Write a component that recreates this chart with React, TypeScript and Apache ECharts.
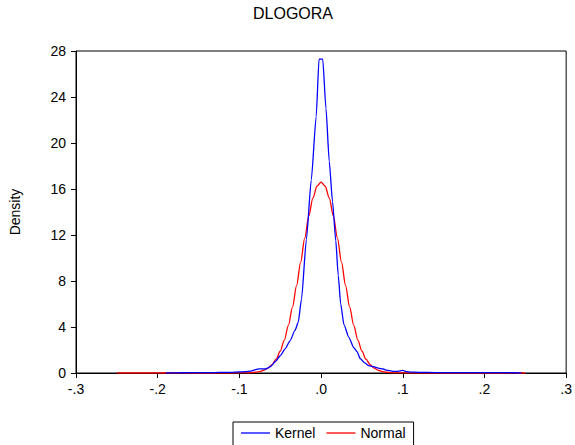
import React, { useEffect, useRef } from "react";
import * as echarts from "echarts";

const titleText = "DLOGORA";
const yAxisName = "Density";
const seriesNames = ["Kernel", "Normal"];

const kernelX = [
  -0.19, -0.17, -0.15, -0.13, -0.12, -0.11, -0.1, -0.093, -0.086, -0.08, -0.075, -0.068,
  -0.062, -0.056, -0.05, -0.044, -0.038, -0.032, -0.028, -0.024, -0.018, -0.012, -0.006,
  -0.0025, 0.002, 0.006, 0.01, 0.014, 0.018, 0.021, 0.024, 0.028, 0.034, 0.04, 0.044, 0.048,
  0.053, 0.058, 0.064, 0.07, 0.076, 0.08, 0.088, 0.094, 0.1, 0.105, 0.11, 0.12, 0.14, 0.16,
  0.18, 0.2, 0.22, 0.235, 0.245,
];
const kernelY = [
  0.0, 0.02, 0.03, 0.04, 0.06, 0.05, 0.09, 0.12, 0.17, 0.3, 0.36, 0.35,
  0.55, 1.0, 1.5, 2.1, 2.8, 3.7, 4.4, 6.4, 11.6, 16.8, 22.3,
  27.3, 27.3, 23.0, 18.4, 14.9, 11.5, 8.5, 6.0, 4.2, 3.1, 2.2, 1.85, 1.25,
  0.9, 0.65, 0.55, 0.42, 0.35, 0.25, 0.15, 0.15, 0.22, 0.12, 0.08, 0.06, 0.04, 0.04,
  0.03, 0.03, 0.04, 0.02, 0.0,
];

const normalX = [
  -0.25, -0.2, -0.15, -0.12, -0.1, -0.09, -0.08, -0.075, -0.07, -0.065, -0.06, -0.055, -0.05,
  -0.045, -0.04, -0.035, -0.03, -0.025, -0.02, -0.015, -0.01, -0.005, 0, 0.005, 0.01, 0.015,
  0.02, 0.025, 0.03, 0.035, 0.04, 0.045, 0.05, 0.055, 0.06, 0.065, 0.07, 0.075, 0.08, 0.09,
  0.1, 0.12, 0.15, 0.2, 0.25,
];
const normalY = [
  0, 0, 0, 0, 0.003, 0.015, 0.064, 0.126, 0.24, 0.42, 0.73, 1.2, 1.9,
  2.86, 4.14, 5.73, 7.6, 9.65, 11.73, 13.66, 15.22, 16.24, 16.6, 16.24, 15.22, 13.66,
  11.73, 9.65, 7.6, 5.73, 4.14, 2.86, 1.9, 1.2, 0.73, 0.42, 0.24, 0.126, 0.064, 0.015,
  0.003, 0, 0, 0, 0,
];

const FONT = "'Liberation Sans', Arial, Helvetica, sans-serif";

function fmtX(v: number): string {
  const r = Math.round(v * 10) / 10;
  if (r === 0) return ".0";
  const s = Math.abs(r).toFixed(1).replace(/^0/, "");
  return (r < 0 ? "-" : "") + s;
}

export default function App() {
  const ref = useRef<HTMLDivElement>(null);
  useEffect(() => {
    if (!ref.current) return;
    const chart = echarts.init(ref.current, null, { renderer: "svg" });
    const kernelData = kernelX.map((x, i) => [x, kernelY[i]]);
    const normalData = normalX.map((x, i) => [x, normalY[i]]);
    chart.setOption({
      animation: false,
      backgroundColor: "#ffffff",
      textStyle: { fontFamily: FONT },
      graphic: [
        {
          type: "text",
          x: 293,
          y: 13,
          style: {
            text: titleText,
            font: `16px ${FONT}`,
            fill: "#000",
            textAlign: "center",
            textVerticalAlign: "middle",
          },
        },
      ],
      grid: {
        left: 73,
        right: 2,
        top: 51,
        bottom: 72,
        show: true,
        borderColor: "#000",
        borderWidth: 1,
        backgroundColor: "transparent",
      },
      legend: {
        data: seriesNames,
        left: 233,
        top: 422,
        orient: "horizontal",
        icon: "rect",
        itemWidth: 29,
        itemHeight: 1.3,
        itemGap: 11,
        padding: [4, 8, 10, 8],
        borderColor: "#000",
        borderWidth: 1,
        borderRadius: 0,
        textStyle: { fontSize: 14, color: "#000", fontFamily: FONT },
      },
      xAxis: {
        type: "value",
        min: -0.3,
        max: 0.3,
        interval: 0.1,
        axisLine: { show: true, onZero: false, lineStyle: { color: "#000", width: 1 } },
        axisTick: { show: true, inside: false, length: 5, lineStyle: { color: "#000" } },
        splitLine: { show: false },
        axisLabel: {
          formatter: fmtX,
          fontSize: 14,
          color: "#000",
          margin: 9,
          showMaxLabel: true,
          showMinLabel: true,
          fontFamily: FONT,
        },
      },
      yAxis: {
        type: "value",
        min: 0,
        max: 28,
        interval: 4,
        name: yAxisName,
        nameLocation: "middle",
        nameGap: 54,
        nameTextStyle: { fontSize: 14, color: "#000", fontFamily: FONT },
        axisLine: { show: true, onZero: false, lineStyle: { color: "#000", width: 1 } },
        axisTick: { show: true, inside: false, length: 5, lineStyle: { color: "#000" } },
        splitLine: { show: false },
        axisLabel: { fontSize: 14, color: "#000", margin: 10, fontFamily: FONT },
      },
      series: [
        {
          name: seriesNames[0],
          type: "line",
          data: kernelData,
          showSymbol: false,
          smooth: 0.2,
          smoothMonotone: "x",
          lineStyle: { color: "#0000ff", width: 1.3 },
          itemStyle: { color: "#0000ff" },
          z: 3,
        },
        {
          name: seriesNames[1],
          type: "line",
          data: normalData,
          showSymbol: false,
          smooth: 0.3,
          smoothMonotone: "x",
          lineStyle: { color: "#ff0000", width: 1.3 },
          itemStyle: { color: "#ff0000" },
          z: 2,
        },
      ],
    });
    return () => chart.dispose();
  }, []);
  return (
    <div
      ref={ref}
      style={{ position: "absolute", left: 0, top: 0, width: 575, height: 445 }}
    />
  );
}
